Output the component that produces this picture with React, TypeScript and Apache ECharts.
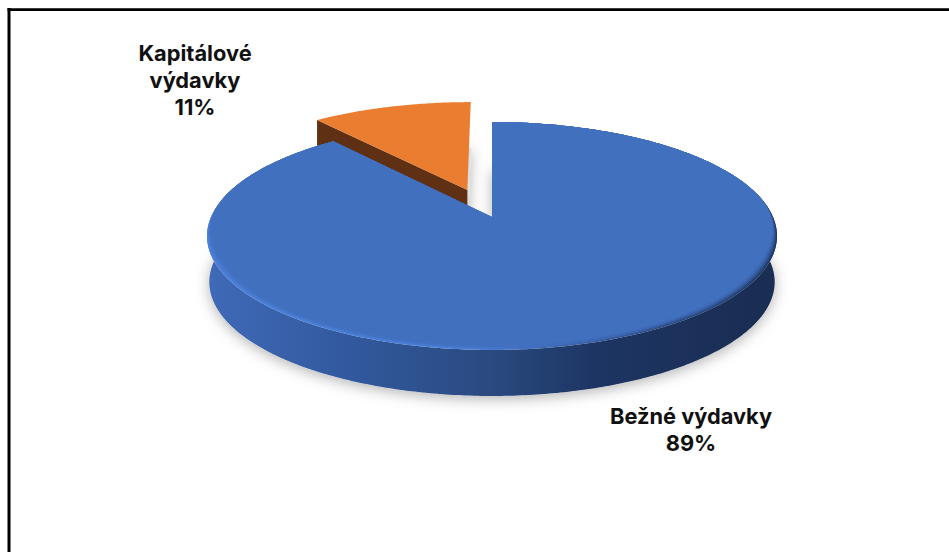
import React, { useEffect, useRef } from "react";
import * as echarts from "echarts";

const categories = ["Bežné výdavky", "Kapitálové výdavky"];
const values = [89, 11];
const labelLines = [["Bežné výdavky"], ["Kapitálové", "výdavky"]];
const explode = [0, 0.27];

const W = 949;
const H = 552;
const CX = 492;
const CY = 217;
const RX = 281;
const RY = 110.8;
const K = 0.1667;
const DEPTH = 46;
const labelCentres = [
  { x: 691, y: 429 },
  { x: 195, y: 80 },
];
const FONT = 'Inter, sans-serif';
const RIM_STEPS = [0.3, 0.4, 0.5, 0.6, 1];

const total = values.reduce((a, b) => a + b, 0);

function project(u: number, v: number, dy = 0, sx = 1): [number, number] {
  const d = 1 - K * v;
  return [CX + (sx * RX * u) / d, CY + (RY * v) / d + dy];
}

function arc(a0: number, a1: number, ox: number, oy: number, dy: number, sx: number, rf?: (v: number) => number) {
  const pts: [number, number][] = [];
  const n = Math.max(6, Math.ceil(Math.abs(a1 - a0) / 0.012));
  for (let i = 0; i <= n; i++) {
    const a = a0 + ((a1 - a0) * i) / n;
    const v0 = -Math.cos(a);
    const r = rf ? rf(v0) : 1;
    pts.push(project(ox + r * Math.sin(a), oy + r * v0, dy, sx));
  }
  return pts;
}

function rimWidth(v: number) {
  const t = Math.min(1, Math.max(0, (v + 0.25) / 0.75));
  return 0.03 * t * t * (3 - 2 * t);
}

function renderItem(params: any, api: any) {
  const i = params.dataIndex;
  const value = api.value(0);
  let cum = 0;
  for (let j = 0; j < i; j++) cum += values[j];
  const a0 = (cum / total) * Math.PI * 2;
  const a1 = ((cum + value) / total) * Math.PI * 2;
  const mid = (a0 + a1) / 2;
  const ox = explode[i] * Math.sin(mid);
  const oy = -explode[i] * Math.cos(mid);
  const apex = project(ox, oy);
  const top = arc(a0, a1, ox, oy, 0, 1);
  const lower = arc(a0, a1, ox, oy, DEPTH, 0.992);
  const lowerApex = project(ox, oy, DEPTH, 0.992);
  const children: any[] = [];
  const poly = (points: any[], style: any, z2: number) => ({
    type: "polygon",
    z2,
    shape: { points },
    style,
  });
  // ground shadow
  children.push(
    poly([lowerApex, ...lower], { fill: "#dedede", shadowBlur: 14, shadowColor: "rgba(0,0,0,0.3)", shadowOffsetY: 3 }, 1)
  );
  if (i === 1) {
    children.push(
      poly([apex, top[0], [top[0][0], top[0][1] + DEPTH], lowerApex], { fill: "#5f3014" }, 2),
      poly([apex, ...top], { fill: "#EB7D30" }, 4)
    );
  } else {
    children.push(
      poly([...top, ...[...lower].reverse()], {
        fill: new echarts.graphic.LinearGradient(0, 0, 1, 0, [
          { offset: 0, color: "#3f6ab8" },
          { offset: 0.25, color: "#32599e" },
          { offset: 0.5, color: "#2a4a80" },
          { offset: 0.68, color: "#1d3563" },
          { offset: 1, color: "#1a2d52" },
        ]),
      }, 5),
      poly([apex, ...top], {
        fill: new echarts.graphic.LinearGradient(0, 0, 1, 0, [
          { offset: 0, color: "#4c82dc" },
          { offset: 0.45, color: "#4c80da" },
          { offset: 0.62, color: "#3d69b2" },
          { offset: 0.8, color: "#2a4a84" },
          { offset: 1, color: "#1f3866" },
        ]),
      }, 6)
    );
    RIM_STEPS.forEach((opacity, k) => {
      const f = (k + 1) / RIM_STEPS.length;
      children.push(
        poly([apex, ...arc(a0, a1, 0, 0, 0, 1, (v) => 1 - f * rimWidth(v))], { fill: "#4170BF", opacity }, 7 + k)
      );
    });
  }
  return { type: "group", children };
}

export default function App() {
  const ref = useRef<HTMLDivElement>(null);
  useEffect(() => {
    const chart = echarts.init(ref.current!, null, { renderer: "svg", width: W, height: H });
    const texts = categories.map((_, i) => ({
      type: "text",
      z: 10,
      x: labelCentres[i].x,
      y: labelCentres[i].y,
      style: {
        text: [...labelLines[i], `${Math.round((values[i] / total) * 100)}%`].join("\n"),
        font: `bold 21.8px ${FONT}`,
        lineHeight: 27,
        fill: "#111111",
        align: "center",
        verticalAlign: "middle",
      },
    }));
    chart.setOption({
      animation: false,
      backgroundColor: "#ffffff",
      graphic: [
        { type: "rect", z: 10, shape: { x: 7.5, y: 8, width: 3, height: 544 }, style: { fill: "#000" } },
        { type: "rect", z: 10, shape: { x: 7.5, y: 8.2, width: 941.5, height: 2.8 }, style: { fill: "#000" } },
        ...texts,
      ],
      series: [
        {
          type: "custom",
          coordinateSystem: "none",
          renderItem,
          data: values.map((v, i) => ({ name: categories[i], value: [v] })),
          silent: true,
        },
      ],
    });
    return () => chart.dispose();
  }, []);
  return <div ref={ref} style={{ position: "absolute", left: 0, top: 0, width: W, height: H }} />;
}
